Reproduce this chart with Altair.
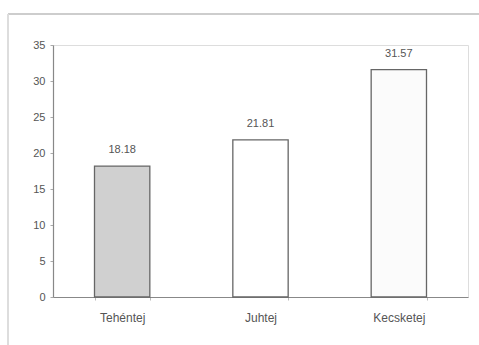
import altair as alt
import pandas as pd

categories = ["Tehéntej", "Juhtej", "Kecsketej"]
values = [18.18, 21.81, 31.57]
fills = ["#d0d0d0", "#ffffff", "#fbfbfb"]
y_ticks = [0, 5, 10, 15, 20, 25, 30, 35]

df = pd.DataFrame({"cat": categories, "val": values, "fill": fills,
                   "label": [f"{v:.2f}" for v in values]})

x = alt.X("cat:N", sort=categories, title=None,
          scale=alt.Scale(paddingInner=0.6, paddingOuter=0.3),
          axis=alt.Axis(labelAngle=0, labelFont="Liberation Sans", labelFontSize=12,
                        labelColor="#555555", labelPadding=12, tickBand="extent",
                        tickSize=3, tickColor="#bbbbbb", domainColor="#888888",
                        domainWidth=1.2))
y = alt.Y("val:Q", title=None,
          scale=alt.Scale(domain=[0, 35], nice=False),
          axis=alt.Axis(values=y_ticks, grid=False, labelOverlap=False,
                        labelFont="Liberation Sans", labelFontSize=11,
                        labelColor="#555555", labelPadding=5, tickSize=3,
                        tickColor="#aaaaaa", domainColor="#888888", domainWidth=1.2))

base = alt.Chart(df).encode(x=x, y=y)

bars = base.mark_bar(stroke="#666666", strokeWidth=1.3).encode(
    fill=alt.Fill("fill:N", scale=None))

labels = base.mark_text(dy=-16, font="Liberation Sans", fontSize=11,
                        color="#555555").encode(text="label:N")

frame_top = alt.Chart(df).mark_rule(color="#cccccc", strokeWidth=1.5).encode(
    x=alt.value(-45), x2=alt.value(426), y=alt.value(-31))
frame_left = alt.Chart(df).mark_rule(color="#dddddd", strokeWidth=1.5).encode(
    x=alt.value(-45), y=alt.value(-31), y2=alt.value(300))

chart = alt.layer(frame_top, frame_left, bars, labels).properties(
    width=415, height=252,
    padding={"left": 53, "top": 45, "right": 11, "bottom": 48},
    autosize="none",
).configure_view(stroke="#cccccc", strokeWidth=1).configure(background="white")

chart.save("out.html", embed_options={"renderer": "svg", "actions": False})
